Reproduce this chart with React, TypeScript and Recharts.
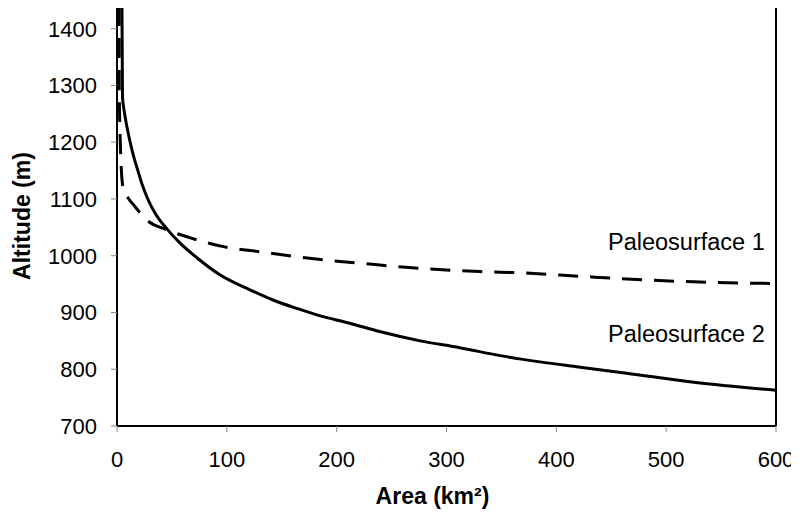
import { LineChart, Line, XAxis, YAxis, ReferenceLine, Label } from "recharts";

// Paleosurface 1 (dashed): area km2 / altitude m
const paleo1Area = [2, 2, 3, 4, 5.5, 10, 15, 27, 45, 66, 97, 130, 164, 203, 237, 260, 300, 330, 367, 420, 464, 525, 600];
const paleo1Alt = [1440, 1300, 1200, 1150, 1121, 1102, 1090, 1063, 1046, 1032, 1016, 1007, 998, 990, 984, 980, 975, 972, 970, 964, 959, 954, 951];

// Paleosurface 2 (solid)
const paleo2Area = [4.5, 5, 6, 8, 10, 12, 15, 19, 23, 28, 35, 46, 57, 73, 94, 121, 142, 164, 185, 210, 240, 276, 312, 349, 385, 420, 464, 525, 600];
const paleo2Alt = [1440, 1280, 1262, 1238, 1218, 1200, 1176, 1150, 1125, 1100, 1074, 1046, 1023, 996, 966, 940, 922, 907, 894, 882, 866, 850, 838, 824, 813, 804, 793, 777, 763];

const xTicks = [0, 100, 200, 300, 400, 500, 600];
const yTicks = [700, 800, 900, 1000, 1100, 1200, 1300, 1400];

const paleo1 = paleo1Area.map((a, i) => ({ area: a, alt: paleo1Alt[i] }));
const paleo2 = paleo2Area.map((a, i) => ({ area: a, alt: paleo2Alt[i] }));

const font = "Arial, 'Liberation Sans', sans-serif";

const App = () => {
    const tickStyle = { fill: "#000", fontSize: 22, fontFamily: font };
    return (
        <div style={{ position: "relative", width: 799, height: 519, margin: -8, background: "#fff" }}>
            <LineChart width={799} height={519} margin={{ top: 6, right: 23, left: 0, bottom: 0 }}>
                <XAxis
                    dataKey="area"
                    type="number"
                    domain={[0, 600]}
                    ticks={xTicks}
                    height={93}
                    tickSize={6}
                    tickMargin={19}
                    tick={tickStyle}
                    axisLine={{ stroke: "#000", strokeWidth: 2 }}
                    tickLine={{ stroke: "#888" }}
                    allowDuplicatedCategory={false}
                >
                    <Label
                        value="Area (km²)"
                        position="insideBottom"
                        offset={15}
                        dx={-14}
                        style={{ fill: "#000", fontSize: 23, fontWeight: "bold", fontFamily: font }}
                    />
                </XAxis>
                <YAxis
                    dataKey="alt"
                    type="number"
                    domain={[700, 1440]}
                    ticks={yTicks}
                    width={117}
                    tickSize={6}
                    tickMargin={14}
                    tick={tickStyle}
                    axisLine={{ stroke: "#000", strokeWidth: 2 }}
                    tickLine={{ stroke: "#888" }}
                    allowDataOverflow
                >
                    <Label
                        value="Altitude (m)"
                        angle={-90}
                        position="insideLeft"
                        offset={22}
                        style={{ textAnchor: "middle", fill: "#000", fontSize: 23, fontWeight: "bold", fontFamily: font }}
                    />
                </YAxis>
                <ReferenceLine y={1440} stroke="#000" strokeWidth={2} />
                <ReferenceLine x={600} stroke="#000" strokeWidth={2} />
                <Line
                    data={paleo1}
                    dataKey="alt"
                    type="monotone"
                    stroke="#000"
                    strokeWidth={3}
                    strokeDasharray="20 12"
                    dot={false}
                    isAnimationActive={false}
                />
                <Line
                    data={paleo2}
                    dataKey="alt"
                    type="monotone"
                    stroke="#000"
                    strokeWidth={3}
                    dot={false}
                    isAnimationActive={false}
                />
            </LineChart>
            <div style={{ position: "absolute", left: 608, top: 229, fontFamily: font, fontSize: 23.5, color: "#000", whiteSpace: "nowrap" }}>
                Paleosurface 1
            </div>
            <div style={{ position: "absolute", left: 608, top: 321, fontFamily: font, fontSize: 23.5, color: "#000", whiteSpace: "nowrap" }}>
                Paleosurface 2
            </div>
        </div>
    );
};

export default App;
